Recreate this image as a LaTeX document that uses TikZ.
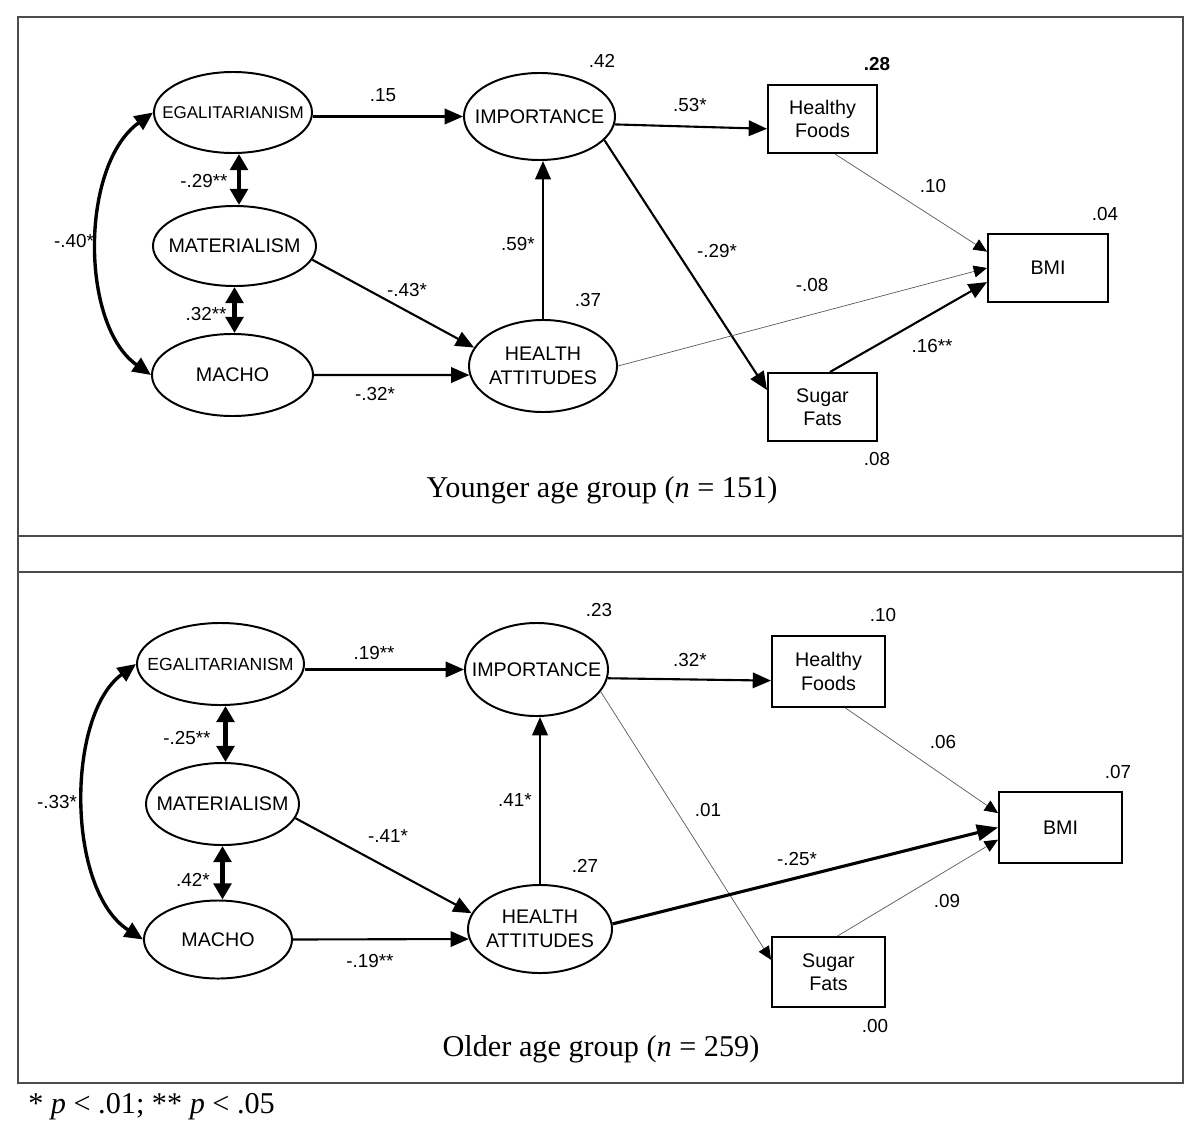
\documentclass[tikz,border=0pt]{standalone}
\usepackage{fontspec}
\setmainfont{Liberation Serif}
\setsansfont{Liberation Sans}
\usetikzlibrary{arrows.meta,shapes.geometric}
\newcommand\mynodefont{\sffamily\fontsize{14}{16.7}\selectfont}
\newcommand\myegalfont{\sffamily\fontsize{12.1}{13}\selectfont}
\newcommand\myegalfontb{\sffamily\fontsize{12.5}{13}\selectfont}
\newcommand\mylblfont{\sffamily\fontsize{13.4}{14}\selectfont}
\newcommand\mycapfont{\rmfamily\fontsize{21.5}{24}\selectfont}
\begin{document}
\begin{tikzpicture}[x=0.025cm,y=-0.025cm,
  frame/.style={draw=black!70,line width=1pt},
  lat/.style={ellipse,draw,line width=1.4pt,inner sep=0pt},
  obs/.style={rectangle,draw,line width=1.4pt,inner sep=0pt,align=center,font=\mynodefont},
  nodetxt/.style={font=\mynodefont,align=center,inner sep=0pt},
  egaltxt/.style={font=\myegalfont,inner sep=0pt},
  egaltxtb/.style={font=\myegalfontb,inner sep=0pt},
  lbl/.style={font=\mylblfont,inner sep=0pt},
  captext/.style={font=\mycapfont,inner sep=0pt},
  pth/.style={line width=1.5pt,-{Triangle[length=13pt,width=11pt]}},
  thk/.style={line width=2.2pt,-{Triangle[length=15pt,width=11.5pt]}},
  thn/.style={line width=0.5pt,draw=black!65,-{Triangle[length=9.5pt,width=8.5pt,black]}},
  dbl/.style={line width=3pt,{Triangle[length=11.5pt,width=12.5pt]}-{Triangle[length=11.5pt,width=12.5pt]}},
  crv/.style={line width=2.4pt,{Triangle[length=13pt,width=11.5pt]}-{Triangle[length=13pt,width=11.5pt]}}
]
\useasboundingbox (0,0) rectangle (1200,1137);
% frame
\draw[frame] (18,17) rectangle (1183,1083);
\draw[frame] (18,536) -- (1183,536);
\draw[frame] (18,572) -- (1183,572);

% ---------------- Younger group ----------------
\node[lat,minimum width=3.95cm,minimum height=2.025cm,label={[egaltxt]center:EGALITARIANISM}] (yeg) at (233,112.5) {};
\node[lat,minimum width=4.075cm,minimum height=2cm,label={[nodetxt]center:MATERIALISM}] (yma) at (234.5,246) {};
\node[lat,minimum width=4.025cm,minimum height=2.05cm,label={[nodetxt]center:MACHO}] (ymc) at (232.5,375) {};
\node[lat,minimum width=3.775cm,minimum height=2.175cm,label={[nodetxt]center:IMPORTANCE}] (yim) at (539.5,116.5) {};
\node[lat,minimum width=3.7cm,minimum height=2.3cm,label={[nodetxt]center:HEALTH\\ATTITUDES}] (yha) at (543,366) {};
\node[obs,minimum width=2.725cm,minimum height=1.7125cm] (yhf) at (822.5,119) {Healthy\\Foods};
\node[obs,minimum width=3cm,minimum height=1.7cm] (ybm) at (1048,268) {BMI};
\node[obs,minimum width=2.725cm,minimum height=1.7cm] (ysf) at (822.5,407) {Sugar\\Fats};

\draw[pth] (yim.west -| yeg.east) -- (yim.west);
\draw[pth] (yim.-6) -- (yhf.190);
\draw[pth] (yim.-20) -- (ysf.163);
\draw[pth] (yma.-10) -- (yha.165);
\draw[pth] (ymc.east) -- (yha.187);
\draw[pth] (yha.north) -- (yha.north |- yim.south);
\draw[thn] (yha.east) -- (ybm.west);
\draw[thn] (yhf.-70) -- (ybm.165);
\draw[pth] (ysf.78) -- (ybm.193);
\draw[dbl] ([xshift=0.15cm]yeg.south) -- ([xshift=0.15cm]yeg.south |- yma.north);
\draw[dbl] (yma.south) -- (yma.south |- ymc.north);
\draw[crv] (yeg.west) .. controls (80,165) and (80,325) .. (ymc.west);

\node[lbl] (ya1) at (602,61) {.42};
\node[lbl] (ya2) at (877,64) {\textbf{.28}};
\node[lbl] (ya3) at (1105,214) {.04};
\node[lbl] (ya4) at (588,300) {.37};
\node[lbl] (ya5) at (877,459) {.08};
\node[lbl] (yb1) at (383,95) {.15};
\node[lbl] (yb2) at (690,105) {.53*};
\node[lbl] (yb3) at (717,251) {-.29*};
\node[lbl] (yb4) at (518,244) {.59*};
\node[lbl] (yb5) at (407,290) {-.43*};
\node[lbl] (yb6) at (375,394) {-.32*};
\node[lbl] (yb7) at (812,285) {-.08};
\node[lbl] (yb8) at (933,186) {.10};
\node[lbl] (yb9) at (932,346) {.16**};
\node[lbl] (yc1) at (204,181) {-.29**};
\node[lbl] (yc2) at (206,314) {.32**};
\node[lbl] (yc3) at (74,241) {-.40*};
\node[captext] (ycap) at (602,490) {Younger age group (\textit{n} = 151)};

% ---------------- Older group ----------------
\node[lat,minimum width=4.175cm,minimum height=2.05cm,label={[egaltxtb]center:EGALITARIANISM}] (oeg) at (220.5,664) {};
\node[lat,minimum width=3.825cm,minimum height=2.05cm,label={[nodetxt]center:MATERIALISM}] (oma) at (222.5,804) {};
\node[lat,minimum width=3.7cm,minimum height=1.95cm,label={[nodetxt]center:MACHO}] (omc) at (218,939.5) {};
\node[lat,minimum width=3.575cm,minimum height=2.325cm,label={[nodetxt]center:IMPORTANCE}] (oim) at (536.5,669.5) {};
\node[lat,minimum width=3.6cm,minimum height=2.2cm,label={[nodetxt]center:HEALTH\\ATTITUDES}] (oha) at (540,929) {};
\node[obs,minimum width=2.825cm,minimum height=1.775cm] (ohf) at (828.5,671.5) {Healthy\\Foods};
\node[obs,minimum width=3.075cm,minimum height=1.775cm] (obm) at (1060.5,827.5) {BMI};
\node[obs,minimum width=2.825cm,minimum height=1.75cm] (osf) at (828.5,972) {Sugar\\Fats};

\draw[pth] (oim.west -| oeg.east) -- (oim.west);
\draw[pth] (oim.-7) -- (ohf.189);
\draw[thn] (oim.-19) -- (osf.168);
\draw[pth] (oma.-11) -- (oha.167);
\draw[pth] (omc.east) -- (oha.188);
\draw[pth] (oha.north) -- (oha.north |- oim.south);
\draw[thk] (oha.4) -- (obm.west);
\draw[thn] (ohf.-65) -- (obm.167);
\draw[thn] (osf.76) -- (obm.191);
\draw[dbl] ([xshift=0.125cm]oeg.south) -- ([xshift=0.125cm]oeg.south |- oma.north);
\draw[dbl] (oma.south) -- (oma.south |- omc.north);
\draw[crv] (oeg.west) .. controls (66,715) and (66,890) .. (omc.west);

\node[lbl] (oa1) at (599,610) {.23};
\node[lbl] (oa2) at (883,615) {.10};
\node[lbl] (oa3) at (1118,772) {.07};
\node[lbl] (oa4) at (585,866) {.27};
\node[lbl] (oa5) at (875,1026) {.00};
\node[lbl] (ob1) at (374,653) {.19**};
\node[lbl] (ob2) at (690,660) {.32*};
\node[lbl] (ob3) at (708,810) {.01};
\node[lbl] (ob4) at (515,800) {.41*};
\node[lbl] (ob5) at (388,836) {-.41*};
\node[lbl] (ob6) at (370,961) {-.19**};
\node[lbl] (ob7) at (797,859) {-.25*};
\node[lbl] (ob8) at (943,742) {.06};
\node[lbl] (ob9) at (947,901) {.09};
\node[lbl] (oc1) at (187,738) {-.25**};
\node[lbl] (oc2) at (193,880) {.42*};
\node[lbl] (oc3) at (57,802) {-.33*};
\node[captext] (ocap) at (601,1049) {Older age group (\textit{n} = 259)};

\node[captext,anchor=west] (foot) at (28,1107) {* \textit{p} < .01; ** \textit{p} < .05};
\end{tikzpicture}
\end{document}
